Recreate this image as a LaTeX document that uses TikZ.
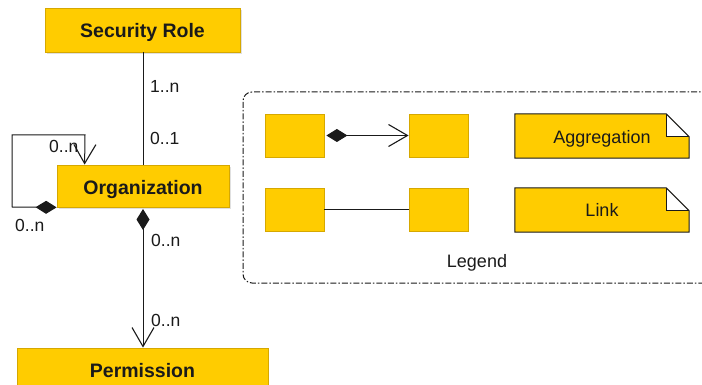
\documentclass[tikz,border=0pt]{standalone}
\usepackage{fontspec}
\setmainfont{Liberation Sans}
\usetikzlibrary{arrows.meta,calc}
\definecolor{gold}{HTML}{FFCC00}
\definecolor{goldedge}{HTML}{D6A800}
\definecolor{ink}{HTML}{1A1A1A}
\tikzset{
  entity/.style={rectangle, fill=gold, draw=goldedge, line width=0.8pt, inner sep=0pt},
  entitytext/.style={font=\fontsize{19.5}{22}\selectfont\bfseries, text=ink, inner sep=0pt, anchor=base},
  swatch/.style={rectangle, fill=gold, draw=goldedge, line width=0.8pt, inner sep=0pt,
    minimum width=59, minimum height=43},
  notebox/.style={rectangle, inner sep=0pt, minimum width=174, minimum height=44},
  notetext/.style={font=\fontsize{18}{21}\selectfont, text=ink, inner sep=0pt, anchor=base},
  mult/.style={font=\fontsize{17.5}{20}\selectfont, text=ink, inner sep=0pt},
  link/.style={draw=ink, line width=1pt},
  diam/.tip={Diamond[length=21pt,width=13pt,fill=ink]},
  openhead/.tip={Straight Barb[length=19pt,width=22pt,line width=1.1pt]},
  shade/.style={fill=black!12},
}
\newcommand{\notefold}[1]{%
  \fill[gold] (#1.north west) -- ($(#1.north east)+(-23,0)$) -- ($(#1.north east)+(0,23)$)
    -- (#1.south east) -- (#1.south west) -- cycle;
  \fill[white] ($(#1.north east)+(-23,0)$) -- ($(#1.north east)+(0,23)$) -- ($(#1.north east)+(-23,23)$) -- cycle;
  \draw[ink, line width=1pt, line join=miter] (#1.north west) -- ($(#1.north east)+(-23,0)$) -- ($(#1.north east)+(0,23)$)
    -- (#1.south east) -- (#1.south west) -- cycle;
  \draw[ink, line width=1pt] ($(#1.north east)+(-23,0)$) -- ($(#1.north east)+(-23,23)$) -- ($(#1.north east)+(0,23)$);
}
\begin{document}
\begin{tikzpicture}[x=1pt, y=-1pt]
  \useasboundingbox[fill=white] (0,0) rectangle (702,385);

  % soft shadows behind the entity boxes
  \fill[shade] (47,10) rectangle (242,54);
  \fill[shade] (59,167) rectangle (231,209);

  % entities
  \node[entity, minimum width=195, minimum height=44] (role) at (142.5,30) {};
  \node[entitytext] (roletext) at ($(role.center)+(0,7.5)$) {Security Role};
  \node[entity, minimum width=172, minimum height=42] (org) at (143,186) {};
  \node[entitytext] (orgtext) at ($(org.center)+(0,8)$) {Organization};
  \node[entity, minimum width=251, minimum height=44] (perm) at (142.5,370) {};
  \node[entitytext] (permtext) at ($(perm.center)+(0,7.5)$) {Permission};

  % Security Role -- Organization
  \draw[link] (role.south -| 143,0) -- (org.north -| 143,0);
  \node[mult, anchor=west] (m1) at (150,86) {1..n};
  \node[mult, anchor=west] (m2) at (150,138) {0..1};

  % self aggregation of Organization
  \coordinate (loopend) at ($(org.north west)+(28,0)$);
  \draw[link, {diam}-{openhead}] (org.south west) -- (12,207) -- (12,135) -- (85,135) -- (loopend);
  \node[mult, anchor=west] (m3) at (49,146) {0..n};
  \node[mult, anchor=west] (m4) at (15,225) {0..n};

  % Organization aggregates Permission
  \coordinate (orgbot) at (143,209);
  \draw[link, {diam}-{openhead}] (orgbot) -- (perm.north -| 143,0);
  \node[mult, anchor=west] (m5) at (151,240) {0..n};
  \node[mult, anchor=west] (m6) at (151,320) {0..n};

  % legend frame
  \draw[ink, line width=1pt, rounded corners=9, dash pattern=on 6pt off 2pt on 1.5pt off 2pt]
    (720,92) -- (243,92) -- (243,283) -- (720,283);

  \node[swatch] (a1) at (294.5,135.5) {};
  \node[swatch] (b1) at (438.5,135.5) {};
  \node[swatch] (a2) at (294.5,209.5) {};
  \node[swatch] (b2) at (438.5,209.5) {};
  \draw[link, {diam}-{openhead}] ($(a1.east)+(2,0)$) -- (b1.west);
  \draw[link] (a2.east) -- (b2.west);

  \node[notebox] (agg) at (602,136) {};
  \notefold{agg}
  \node[notetext] (aggtext) at ($(agg.center)+(0,8)$) {Aggregation};
  \node[notebox] (lnk) at (602,210) {};
  \notefold{lnk}
  \node[notetext] (lnktext) at ($(lnk.center)+(0,7)$) {Link};

  \node[font=\fontsize{18}{21}\selectfont, text=ink, inner sep=0pt] (legend) at (477,263) {Legend};
\end{tikzpicture}
\end{document}
